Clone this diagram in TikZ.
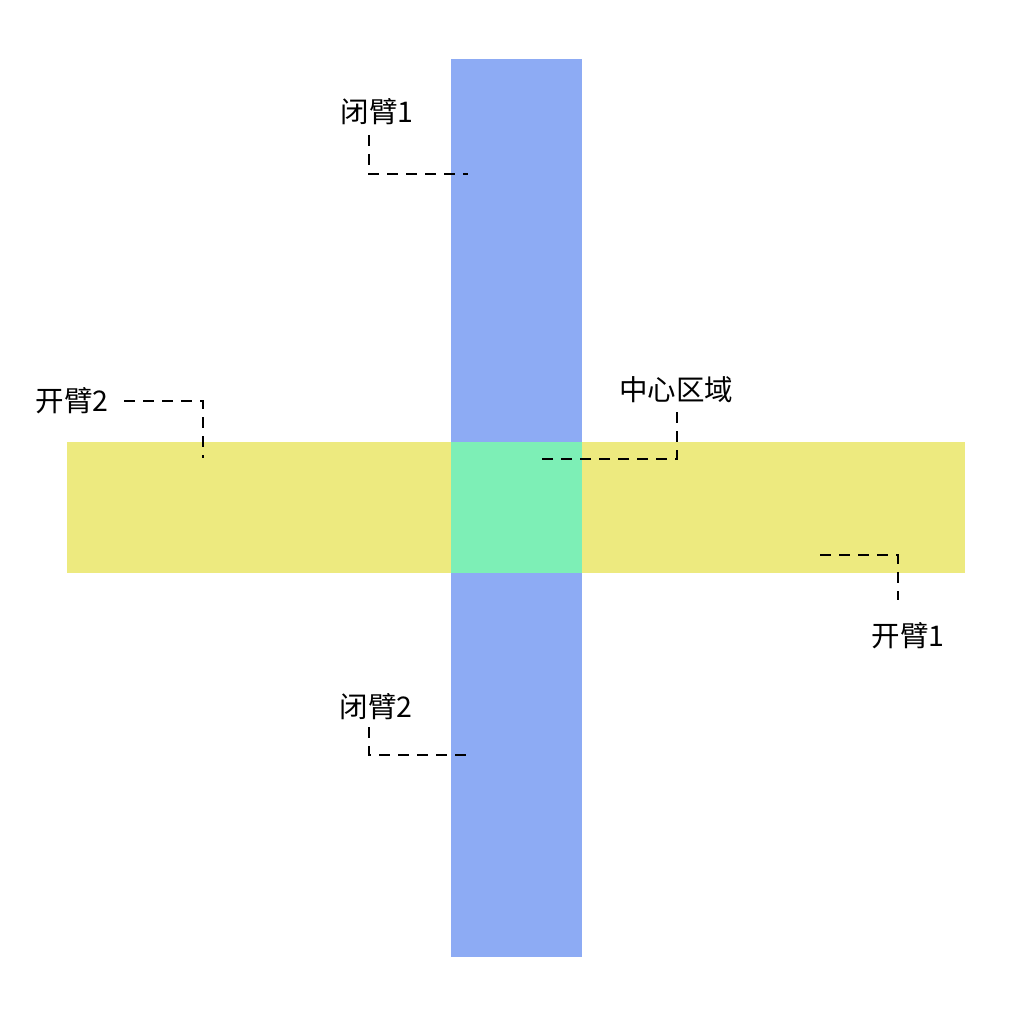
\documentclass[tikz,border=0pt]{standalone}
\usepackage{fontspec}
\setmainfont{Noto Sans CJK SC}
\usepackage{tikz}
\definecolor{closedblue}{HTML}{8DABF4}
\definecolor{openyellow}{HTML}{EDEA7F}
\definecolor{centergreen}{HTML}{7DEFB6}
\tikzset{
  armlabel/.style={font=\fontsize{28.5}{32}\selectfont, inner sep=0pt},
  leader/.style={draw=black, line width=1.3pt, dash pattern=on 11pt off 8pt}
}

\begin{document}
\begin{tikzpicture}[x=1pt,y=-1pt]
\useasboundingbox[fill=white] (0,0) rectangle (1011,1011);
% arms
\fill[closedblue] (451,59) rectangle (582,957);
\fill[openyellow] (67,442) rectangle (965,573);
\fill[centergreen] (451,442) rectangle (582,573);
% labels
\node[armlabel] (closed1) at (377,112) {闭臂1};
\node[armlabel] (open2) at (72,401) {开臂2};
\node[armlabel] (center) at (676,390) {中心区域};
\node[armlabel] (open1) at (908,636) {开臂1};
\node[armlabel] (closed2) at (376,707) {闭臂2};
% leader ends
\coordinate (c1s) at (369,135);
\coordinate (c1e) at (468,174);
\coordinate (o2s) at (124,401);
\coordinate (o2e) at (203,458);
\coordinate (cs) at (677,412);
\coordinate (ce) at (535,459);
\coordinate (o1s) at (820,555);
\coordinate (o1e) at (898,600);
\coordinate (c2s) at (369,727);
\coordinate (c2e) at (470,755);
% leaders
\draw[leader] (c1s) |- (c1e);
\draw[leader] (o2s) -| (o2e);
\draw[leader] (cs) |- (ce);
\draw[leader] (o1s) -| (o1e);
\draw[leader] (c2s) |- (c2e);
\end{tikzpicture}
\end{document}
